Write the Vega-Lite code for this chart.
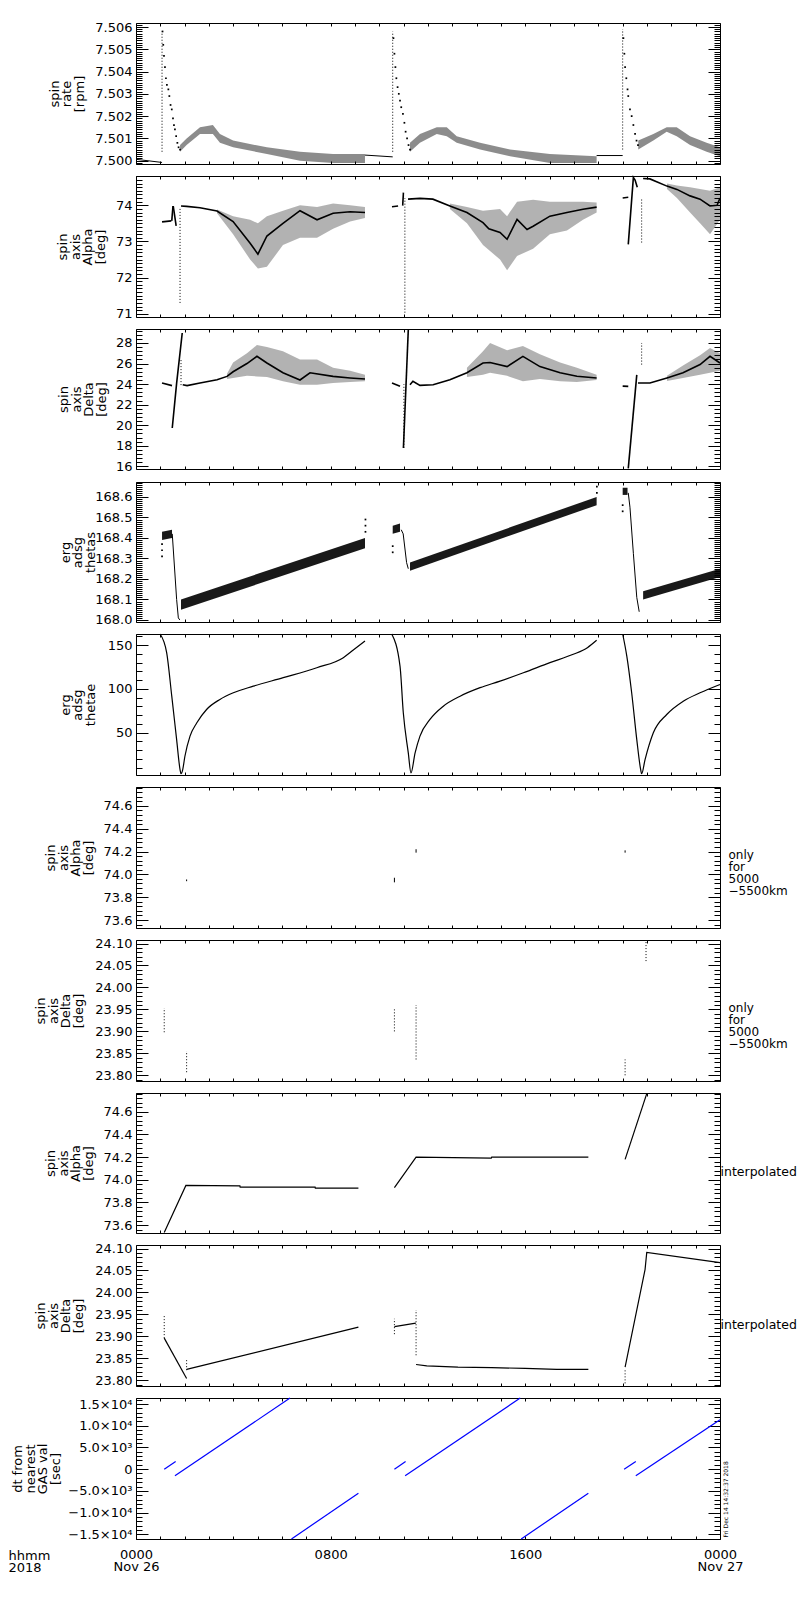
{
"$schema":"https://vega.github.io/schema/vega-lite/v6.json",
"autosize":{"type":"none"},
"width":584,
"height":1516,
"padding":{"left":136,"top":23,"right":80,"bottom":61},
"background":"#ffffff",
"config":{
 "font":"DejaVu Sans",
 "view":{"stroke":null},
 "axis":{"domain":false,"domainColor":"#000000","domainWidth":1,"grid":false,"tickColor":"#000000","tickWidth":1,"labelFont":"DejaVu Sans","labelFontSize":13,"labelColor":"#000000","labelFlush":false,"labelOverlap":false,"labelBound":false,"titleFont":"DejaVu Sans","titleFontSize":13,"titleFontWeight":"normal","titleColor":"#000000","titleLineHeight":12.5,"labelLineHeight":12}
},
"datasets":{
"lines":[
{"p":1,"s":"a","h":0,"v":7.50006},{"p":1,"s":"a","h":1.07,"v":7.49992},
{"p":1,"s":"d","h":9.41,"v":7.50025},{"p":1,"s":"d","h":10.55,"v":7.50017},
{"p":1,"s":"f","h":18.93,"v":7.50023},{"p":1,"s":"f","h":20.0,"v":7.50023},
{"p":2,"s":"a","h":1.07,"v":73.54},{"p":2,"s":"a","h":1.45,"v":73.57},
{"p":2,"s":"b","h":1.47,"v":73.57},{"p":2,"s":"b","h":1.52,"v":73.98},
{"p":2,"s":"c","h":1.53,"v":73.98},{"p":2,"s":"c","h":1.65,"v":73.43},
{"p":2,"s":"d","h":1.85,"v":73.98},{"p":2,"s":"d","h":2.08,"v":73.97},{"p":2,"s":"d","h":2.63,"v":73.93},{"p":2,"s":"d","h":3.33,"v":73.84},{"p":2,"s":"d","h":3.99,"v":73.55},{"p":2,"s":"d","h":4.69,"v":72.95},{"p":2,"s":"d","h":5.01,"v":72.65},{"p":2,"s":"d","h":5.38,"v":73.15},{"p":2,"s":"d","h":6.04,"v":73.5},{"p":2,"s":"d","h":6.74,"v":73.85},{"p":2,"s":"d","h":7.44,"v":73.6},{"p":2,"s":"d","h":8.10,"v":73.78},{"p":2,"s":"d","h":8.80,"v":73.82},{"p":2,"s":"d","h":9.41,"v":73.8},
{"p":2,"s":"f","h":10.52,"v":73.96},{"p":2,"s":"f","h":10.77,"v":73.98},
{"p":2,"s":"g","h":10.96,"v":73.99},{"p":2,"s":"g","h":10.99,"v":74.35},
{"p":2,"s":"h","h":11.18,"v":74.17},{"p":2,"s":"h","h":11.67,"v":74.19},{"p":2,"s":"h","h":12.2,"v":74.17},{"p":2,"s":"h","h":12.9,"v":73.98},{"p":2,"s":"h","h":13.6,"v":73.8},{"p":2,"s":"h","h":14.26,"v":73.52},{"p":2,"s":"h","h":14.5,"v":73.35},{"p":2,"s":"h","h":14.96,"v":73.25},{"p":2,"s":"h","h":15.25,"v":73.06},{"p":2,"s":"h","h":15.66,"v":73.61},{"p":2,"s":"h","h":16.07,"v":73.33},{"p":2,"s":"h","h":16.32,"v":73.42},{"p":2,"s":"h","h":17.01,"v":73.7},{"p":2,"s":"h","h":17.71,"v":73.8},{"p":2,"s":"h","h":18.37,"v":73.89},{"p":2,"s":"h","h":18.93,"v":73.95},
{"p":2,"s":"j","h":20.0,"v":74.2},{"p":2,"s":"j","h":20.23,"v":74.22},
{"p":2,"s":"k","h":20.23,"v":72.92},{"p":2,"s":"k","h":20.44,"v":74.77},{"p":2,"s":"k","h":20.51,"v":74.7},{"p":2,"s":"k","h":20.6,"v":74.5},
{"p":2,"s":"l","h":20.84,"v":74.74},{"p":2,"s":"l","h":21.12,"v":74.73},{"p":2,"s":"l","h":21.82,"v":74.53},{"p":2,"s":"l","h":22.23,"v":74.44},{"p":2,"s":"l","h":22.77,"v":74.26},{"p":2,"s":"l","h":23.18,"v":74.17},{"p":2,"s":"l","h":23.59,"v":73.98},{"p":2,"s":"l","h":23.88,"v":74.0},{"p":2,"s":"l","h":24.0,"v":74.2},
{"p":3,"s":"a","h":1.07,"v":24.1},{"p":3,"s":"a","h":1.48,"v":23.85},
{"p":3,"s":"b","h":1.49,"v":19.73},{"p":3,"s":"b","h":1.67,"v":24.1},{"p":3,"s":"b","h":1.90,"v":28.97},
{"p":3,"s":"c","h":1.92,"v":23.94},{"p":3,"s":"c","h":2.10,"v":23.85},{"p":3,"s":"c","h":2.63,"v":24.11},{"p":3,"s":"c","h":3.33,"v":24.43},{"p":3,"s":"c","h":3.74,"v":24.75},{"p":3,"s":"c","h":3.99,"v":25.2},{"p":3,"s":"c","h":4.56,"v":26.0},{"p":3,"s":"c","h":4.97,"v":26.7},{"p":3,"s":"c","h":5.38,"v":26.05},{"p":3,"s":"c","h":6.04,"v":25.1},{"p":3,"s":"c","h":6.74,"v":24.4},{"p":3,"s":"c","h":7.15,"v":25.1},{"p":3,"s":"c","h":8.10,"v":24.75},{"p":3,"s":"c","h":8.80,"v":24.6},{"p":3,"s":"c","h":9.41,"v":24.5},
{"p":3,"s":"e","h":10.52,"v":24.1},{"p":3,"s":"e","h":10.85,"v":23.78},
{"p":3,"s":"f","h":10.99,"v":17.79},{"p":3,"s":"f","h":11.19,"v":29.29},
{"p":3,"s":"g","h":11.26,"v":23.94},{"p":3,"s":"g","h":11.38,"v":24.27},{"p":3,"s":"g","h":11.67,"v":23.88},{"p":3,"s":"g","h":12.21,"v":23.94},{"p":3,"s":"g","h":12.9,"v":24.43},{"p":3,"s":"g","h":13.6,"v":25.1},{"p":3,"s":"g","h":14.26,"v":26.05},{"p":3,"s":"g","h":14.55,"v":26.1},{"p":3,"s":"g","h":15.25,"v":25.7},{"p":3,"s":"g","h":15.9,"v":26.7},{"p":3,"s":"g","h":16.6,"v":25.7},{"p":3,"s":"g","h":17.43,"v":25.1},{"p":3,"s":"g","h":18.12,"v":24.76},{"p":3,"s":"g","h":18.93,"v":24.6},
{"p":3,"s":"i","h":20.0,"v":23.8},{"p":3,"s":"i","h":20.23,"v":23.78},
{"p":3,"s":"j","h":20.23,"v":15.8},{"p":3,"s":"j","h":20.58,"v":24.9},
{"p":3,"s":"k","h":20.63,"v":24.1},{"p":3,"s":"k","h":21.12,"v":24.1},{"p":3,"s":"k","h":21.82,"v":24.6},{"p":3,"s":"k","h":22.48,"v":25.1},{"p":3,"s":"k","h":23.18,"v":25.9},{"p":3,"s":"k","h":23.59,"v":26.7},{"p":3,"s":"k","h":24.0,"v":26.05},
{"p":4,"s":"b","h":1.49,"v":168.42},{"p":4,"s":"b","h":1.67,"v":168.10},{"p":4,"s":"b","h":1.74,"v":168.01},{"p":4,"s":"b","h":1.80,"v":168.0},
{"p":4,"s":"e","h":10.90,"v":168.44},{"p":4,"s":"e","h":10.98,"v":168.42},{"p":4,"s":"e","h":11.12,"v":168.28},{"p":4,"s":"e","h":11.19,"v":168.25},
{"p":4,"s":"h","h":20.23,"v":168.62},{"p":4,"s":"h","h":20.30,"v":168.55},{"p":4,"s":"h","h":20.44,"v":168.325},{"p":4,"s":"h","h":20.58,"v":168.11},{"p":4,"s":"h","h":20.68,"v":168.04},
{"p":5,"s":"a","h":0.99,"v":162.6},{"p":5,"s":"a","h":1.26,"v":141.3},{"p":5,"s":"a","h":1.47,"v":91.6},{"p":5,"s":"a","h":1.67,"v":42},{"p":5,"s":"a","h":1.81,"v":7.8},{"p":5,"s":"a","h":1.85,"v":3},{"p":5,"s":"a","h":1.92,"v":7.8},{"p":5,"s":"a","h":2.01,"v":23},{"p":5,"s":"a","h":2.22,"v":46},{"p":5,"s":"a","h":2.50,"v":61.2},{"p":5,"s":"a","h":2.90,"v":76.4},{"p":5,"s":"a","h":3.45,"v":87.9},{"p":5,"s":"a","h":4.00,"v":95.5},{"p":5,"s":"a","h":4.82,"v":103},{"p":5,"s":"a","h":6.05,"v":112.7},{"p":5,"s":"a","h":7.43,"v":124.1},{"p":5,"s":"a","h":8.52,"v":135.6},{"p":5,"s":"a","h":8.93,"v":144.3},{"p":5,"s":"a","h":9.41,"v":154.6},
{"p":5,"s":"c","h":10.51,"v":162.6},{"p":5,"s":"c","h":10.85,"v":126},{"p":5,"s":"c","h":10.985,"v":72.6},{"p":5,"s":"c","h":11.19,"v":26.9},{"p":5,"s":"c","h":11.30,"v":4},{"p":5,"s":"c","h":11.47,"v":26.9},{"p":5,"s":"c","h":11.67,"v":46},{"p":5,"s":"c","h":12.08,"v":65},{"p":5,"s":"c","h":12.63,"v":80.2},{"p":5,"s":"c","h":13.32,"v":91.6},{"p":5,"s":"c","h":14.14,"v":101.3},{"p":5,"s":"c","h":14.96,"v":108.8},{"p":5,"s":"c","h":15.92,"v":118.4},{"p":5,"s":"c","h":17.01,"v":129.9},{"p":5,"s":"c","h":17.97,"v":139.4},{"p":5,"s":"c","h":18.55,"v":147},{"p":5,"s":"c","h":18.93,"v":155.4},
{"p":5,"s":"d","h":20.0,"v":162.6},{"p":5,"s":"d","h":20.17,"v":137.4},{"p":5,"s":"d","h":20.37,"v":95.5},{"p":5,"s":"d","h":20.58,"v":42},{"p":5,"s":"d","h":20.74,"v":7.8},{"p":5,"s":"d","h":20.78,"v":3},{"p":5,"s":"d","h":20.92,"v":19.2},{"p":5,"s":"d","h":21.26,"v":49.8},{"p":5,"s":"d","h":21.81,"v":70.7},{"p":5,"s":"d","h":22.49,"v":85.9},{"p":5,"s":"d","h":23.18,"v":95.5},{"p":5,"s":"d","h":24.0,"v":105},
{"p":8,"s":"a","h":1.16,"v":73.535},{"p":8,"s":"a","h":2.05,"v":73.95},{"p":8,"s":"a","h":4.27,"v":73.945},{"p":8,"s":"a","h":4.28,"v":73.935},{"p":8,"s":"a","h":7.36,"v":73.935},{"p":8,"s":"a","h":7.37,"v":73.925},{"p":8,"s":"a","h":9.14,"v":73.925},
{"p":8,"s":"d","h":10.62,"v":73.93},{"p":8,"s":"d","h":11.51,"v":74.2},{"p":8,"s":"d","h":14.6,"v":74.19},{"p":8,"s":"d","h":14.62,"v":74.2},{"p":8,"s":"d","h":18.59,"v":74.2},
{"p":8,"s":"e","h":20.10,"v":74.18},{"p":8,"s":"e","h":20.99,"v":74.76},
{"p":9,"s":"a","h":1.16,"v":23.896},{"p":9,"s":"a","h":2.08,"v":23.804},
{"p":9,"s":"b","h":2.08,"v":23.825},{"p":9,"s":"b","h":9.14,"v":23.921},
{"p":9,"s":"c","h":10.62,"v":23.922},{"p":9,"s":"c","h":11.50,"v":23.93},
{"p":9,"s":"d","h":11.51,"v":23.836},{"p":9,"s":"d","h":11.95,"v":23.833},{"p":9,"s":"d","h":13.23,"v":23.830},{"p":9,"s":"d","h":14.62,"v":23.829},{"p":9,"s":"d","h":15.99,"v":23.827},{"p":9,"s":"d","h":17.29,"v":23.825},{"p":9,"s":"d","h":18.59,"v":23.825},
{"p":9,"s":"e","h":20.10,"v":23.83},{"p":9,"s":"e","h":20.92,"v":24.052},{"p":9,"s":"e","h":20.99,"v":24.091},{"p":9,"s":"e","h":24.0,"v":24.068},
{"p":10,"s":"a","h":1.16,"v":0},{"p":10,"s":"a","h":1.63,"v":1760},
{"p":10,"s":"b","h":1.60,"v":-1540},{"p":10,"s":"b","h":6.33,"v":16385},
{"p":10,"s":"c","h":6.39,"v":-16085},{"p":10,"s":"c","h":9.14,"v":-5540},
{"p":10,"s":"d","h":10.62,"v":0},{"p":10,"s":"d","h":11.08,"v":1760},
{"p":10,"s":"e","h":11.06,"v":-1540},{"p":10,"s":"e","h":15.79,"v":16385},
{"p":10,"s":"f","h":15.83,"v":-16085},{"p":10,"s":"f","h":18.59,"v":-5540},
{"p":10,"s":"g","h":20.06,"v":0},{"p":10,"s":"g","h":20.54,"v":1760},
{"p":10,"s":"h","h":20.54,"v":-1540},{"p":10,"s":"h","h":24.0,"v":11380}
],
"bands":[
{"p":1,"s":"c","h":1.81,"lo":7.5004,"hi":7.5007},{"p":1,"s":"c","h":2.08,"lo":7.5007,"hi":7.501},{"p":1,"s":"c","h":2.63,"lo":7.5012,"hi":7.5015},{"p":1,"s":"c","h":3.16,"lo":7.5012,"hi":7.5016},{"p":1,"s":"c","h":3.45,"lo":7.5008,"hi":7.5012},{"p":1,"s":"c","h":3.99,"lo":7.5006,"hi":7.5009},{"p":1,"s":"c","h":5.38,"lo":7.5003,"hi":7.5006},{"p":1,"s":"c","h":6.74,"lo":7.5,"hi":7.5004},{"p":1,"s":"c","h":8.10,"lo":7.4999,"hi":7.5003},{"p":1,"s":"c","h":9.41,"lo":7.4999,"hi":7.5003},
{"p":1,"s":"e","h":11.26,"lo":7.5004,"hi":7.5008},{"p":1,"s":"e","h":11.67,"lo":7.5008,"hi":7.5012},{"p":1,"s":"e","h":12.36,"lo":7.5012,"hi":7.5015},{"p":1,"s":"e","h":12.77,"lo":7.5011,"hi":7.5015},{"p":1,"s":"e","h":13.18,"lo":7.5008,"hi":7.5011},{"p":1,"s":"e","h":14.14,"lo":7.5005,"hi":7.5008},{"p":1,"s":"e","h":15.37,"lo":7.5002,"hi":7.5005},{"p":1,"s":"e","h":17.01,"lo":7.4999,"hi":7.5003},{"p":1,"s":"e","h":18.93,"lo":7.4999,"hi":7.5002},
{"p":1,"s":"g","h":20.64,"lo":7.5005,"hi":7.5009},{"p":1,"s":"g","h":21.26,"lo":7.5009,"hi":7.5012},{"p":1,"s":"g","h":21.81,"lo":7.5013,"hi":7.5015},{"p":1,"s":"g","h":22.22,"lo":7.5011,"hi":7.5015},{"p":1,"s":"g","h":22.77,"lo":7.5007,"hi":7.5011},{"p":1,"s":"g","h":23.45,"lo":7.5004,"hi":7.5008},{"p":1,"s":"g","h":24.0,"lo":7.5002,"hi":7.5006},
{"p":2,"s":"e","h":3.33,"lo":73.78,"hi":73.88},{"p":2,"s":"e","h":3.99,"lo":73.2,"hi":73.7},{"p":2,"s":"e","h":4.69,"lo":72.5,"hi":73.6},{"p":2,"s":"e","h":5.01,"lo":72.25,"hi":73.5},{"p":2,"s":"e","h":5.38,"lo":72.3,"hi":73.7},{"p":2,"s":"e","h":6.04,"lo":72.9,"hi":73.85},{"p":2,"s":"e","h":6.74,"lo":73.1,"hi":74.0},{"p":2,"s":"e","h":7.44,"lo":73.1,"hi":73.95},{"p":2,"s":"e","h":8.10,"lo":73.35,"hi":74.05},{"p":2,"s":"e","h":8.80,"lo":73.55,"hi":74.0},{"p":2,"s":"e","h":9.41,"lo":73.65,"hi":73.95},
{"p":2,"s":"i","h":12.9,"lo":73.9,"hi":74.05},{"p":2,"s":"i","h":13.6,"lo":73.5,"hi":73.95},{"p":2,"s":"i","h":14.26,"lo":72.9,"hi":73.85},{"p":2,"s":"i","h":14.96,"lo":72.5,"hi":73.9},{"p":2,"s":"i","h":15.25,"lo":72.2,"hi":73.7},{"p":2,"s":"i","h":15.66,"lo":72.6,"hi":74.1},{"p":2,"s":"i","h":16.32,"lo":72.8,"hi":74.15},{"p":2,"s":"i","h":17.01,"lo":73.2,"hi":74.1},{"p":2,"s":"i","h":17.71,"lo":73.3,"hi":74.1},{"p":2,"s":"i","h":18.37,"lo":73.6,"hi":74.1},{"p":2,"s":"i","h":18.93,"lo":73.8,"hi":74.08},
{"p":2,"s":"m","h":21.82,"lo":74.45,"hi":74.6},{"p":2,"s":"m","h":22.23,"lo":74.2,"hi":74.55},{"p":2,"s":"m","h":22.77,"lo":73.8,"hi":74.5},{"p":2,"s":"m","h":23.18,"lo":73.5,"hi":74.45},{"p":2,"s":"m","h":23.59,"lo":73.2,"hi":74.4},{"p":2,"s":"m","h":24.0,"lo":73.6,"hi":74.5},
{"p":3,"s":"d","h":3.74,"lo":24.5,"hi":25.0},{"p":3,"s":"d","h":3.99,"lo":24.6,"hi":26.1},{"p":3,"s":"d","h":4.56,"lo":24.8,"hi":27.0},{"p":3,"s":"d","h":4.97,"lo":24.75,"hi":27.8},{"p":3,"s":"d","h":5.38,"lo":24.7,"hi":27.6},{"p":3,"s":"d","h":6.04,"lo":24.27,"hi":27.2},{"p":3,"s":"d","h":6.74,"lo":23.94,"hi":26.4},{"p":3,"s":"d","h":7.44,"lo":23.94,"hi":26.4},{"p":3,"s":"d","h":8.10,"lo":24.1,"hi":25.6},{"p":3,"s":"d","h":8.80,"lo":24.2,"hi":25.3},{"p":3,"s":"d","h":9.41,"lo":24.27,"hi":24.9},
{"p":3,"s":"h","h":13.6,"lo":24.7,"hi":25.6},{"p":3,"s":"h","h":14.26,"lo":24.9,"hi":27.2},{"p":3,"s":"h","h":14.55,"lo":25.1,"hi":28.0},{"p":3,"s":"h","h":15.25,"lo":24.8,"hi":27.3},{"p":3,"s":"h","h":15.9,"lo":24.27,"hi":27.7},{"p":3,"s":"h","h":16.6,"lo":24.5,"hi":26.9},{"p":3,"s":"h","h":17.43,"lo":24.27,"hi":26.1},{"p":3,"s":"h","h":18.12,"lo":24.2,"hi":25.6},{"p":3,"s":"h","h":18.93,"lo":24.4,"hi":24.9},
{"p":3,"s":"l","h":21.82,"lo":24.3,"hi":24.8},{"p":3,"s":"l","h":22.48,"lo":24.6,"hi":25.8},{"p":3,"s":"l","h":23.18,"lo":24.9,"hi":26.8},{"p":3,"s":"l","h":23.59,"lo":25.1,"hi":27.5},{"p":3,"s":"l","h":24.0,"lo":25.3,"hi":27.0},
{"p":4,"s":"a","h":1.07,"lo":168.39,"hi":168.43},{"p":4,"s":"a","h":1.48,"lo":168.40,"hi":168.44},
{"p":4,"s":"c","h":1.85,"lo":168.05,"hi":168.10},{"p":4,"s":"c","h":9.41,"lo":168.35,"hi":168.40},
{"p":4,"s":"d","h":10.55,"lo":168.42,"hi":168.46},{"p":4,"s":"d","h":10.85,"lo":168.43,"hi":168.47},
{"p":4,"s":"f","h":11.26,"lo":168.24,"hi":168.28},{"p":4,"s":"f","h":18.93,"lo":168.56,"hi":168.60},
{"p":4,"s":"g","h":20.0,"lo":168.61,"hi":168.645},{"p":4,"s":"g","h":20.2,"lo":168.61,"hi":168.645},
{"p":4,"s":"i","h":20.84,"lo":168.10,"hi":168.14},{"p":4,"s":"i","h":24.0,"lo":168.21,"hi":168.25}
],
"cols":[
{"p":1,"h":1.07,"v":7.5004,"v2":7.5058},{"p":1,"h":10.55,"v":7.5004,"v2":7.5058},{"p":1,"h":20.0,"v":7.5005,"v2":7.5059},
{"p":2,"h":1.81,"v":71.3,"v2":73.9},{"p":2,"h":11.05,"v":71.03,"v2":74.2},{"p":2,"h":20.78,"v":72.97,"v2":74.17},
{"p":3,"h":1.85,"v":23.9,"v2":26.4},{"p":3,"h":11.01,"v":17.8,"v2":24.0},{"p":3,"h":20.78,"v":25.9,"v2":28.0},
{"p":6,"h":2.08,"v":73.94,"v2":73.955},{"p":6,"h":10.62,"v":73.93,"v2":73.97},{"p":6,"h":11.51,"v":74.19,"v2":74.22},{"p":6,"h":20.10,"v":74.19,"v2":74.21},
{"p":7,"h":1.16,"v":23.898,"v2":23.953},{"p":7,"h":2.08,"v":23.807,"v2":23.855},{"p":7,"h":10.62,"v":23.90,"v2":23.95},{"p":7,"h":11.51,"v":23.836,"v2":23.96},{"p":7,"h":20.10,"v":23.80,"v2":23.836},{"p":7,"h":20.96,"v":24.06,"v2":24.105},
{"p":9,"h":1.16,"v":23.896,"v2":23.949},{"p":9,"h":2.08,"v":23.823,"v2":23.85},{"p":9,"h":10.62,"v":23.905,"v2":23.94},{"p":9,"h":11.51,"v":23.857,"v2":23.96},{"p":9,"h":20.10,"v":23.793,"v2":23.823}
],
"dots":[
{"p":1,"h":1.09,"v":7.5058},{"p":1,"h":1.12,"v":7.5052},{"p":1,"h":1.15,"v":7.5047},{"p":1,"h":1.19,"v":7.5042},{"p":1,"h":1.23,"v":7.5037},{"p":1,"h":1.27,"v":7.5034},{"p":1,"h":1.33,"v":7.5032},{"p":1,"h":1.37,"v":7.5029},{"p":1,"h":1.42,"v":7.5025},{"p":1,"h":1.47,"v":7.5023},{"p":1,"h":1.52,"v":7.5019},{"p":1,"h":1.56,"v":7.5016},{"p":1,"h":1.60,"v":7.5014},{"p":1,"h":1.65,"v":7.5011},{"p":1,"h":1.70,"v":7.5008},{"p":1,"h":1.75,"v":7.5006},{"p":1,"h":1.81,"v":7.5005},
{"p":1,"h":10.58,"v":7.5055},{"p":1,"h":10.62,"v":7.5048},{"p":1,"h":10.66,"v":7.5042},{"p":1,"h":10.70,"v":7.5037},{"p":1,"h":10.75,"v":7.5033},{"p":1,"h":10.80,"v":7.503},{"p":1,"h":10.85,"v":7.5027},{"p":1,"h":10.90,"v":7.5024},{"p":1,"h":10.97,"v":7.5021},{"p":1,"h":11.03,"v":7.5017},{"p":1,"h":11.08,"v":7.5013},{"p":1,"h":11.14,"v":7.501},{"p":1,"h":11.20,"v":7.5007},{"p":1,"h":11.26,"v":7.5005},
{"p":1,"h":20.03,"v":7.5055},{"p":1,"h":20.07,"v":7.5048},{"p":1,"h":20.10,"v":7.5042},{"p":1,"h":20.15,"v":7.5037},{"p":1,"h":20.2,"v":7.5032},{"p":1,"h":20.23,"v":7.5029},{"p":1,"h":20.3,"v":7.5023},{"p":1,"h":20.37,"v":7.502},{"p":1,"h":20.44,"v":7.5016},{"p":1,"h":20.51,"v":7.5012},{"p":1,"h":20.57,"v":7.5009},{"p":1,"h":20.63,"v":7.5007},
{"p":4,"h":1.07,"v":168.31},{"p":4,"h":1.07,"v":168.34},{"p":4,"h":1.07,"v":168.37},{"p":4,"h":9.43,"v":168.43},{"p":4,"h":9.43,"v":168.46},{"p":4,"h":9.43,"v":168.49},{"p":4,"h":10.55,"v":168.33},{"p":4,"h":10.55,"v":168.36},{"p":4,"h":18.94,"v":168.62},{"p":4,"h":18.94,"v":168.65},{"p":4,"h":20.0,"v":168.53},{"p":4,"h":20.0,"v":168.56}
]
},
"resolve":{"scale":{"y":"independent"},"axis":{"x":"independent","y":"independent"}},
"layer":[
 {"data":{"name":"bands"},"transform":[{"filter":"datum.p==1"}],"mark":{"type":"area","color":"#000","opacity":0.45},"encoding":{"x":{"field":"h","type":"quantitative","scale":{"domain":[0,24],"nice":false,"zero":false},"axis":null},"y":{"field":"lo","type":"quantitative","scale":{"domain":[7.49985,7.50618],"range":[141,0],"nice":false,"zero":false,"clamp":true},"axis":null},"y2":{"field":"hi"},"detail":{"field":"s"}}},
 {"data":{"name":"lines"},"transform":[{"filter":"datum.p==1"}],"mark":{"type":"line","color":"#000","strokeWidth":1},"encoding":{"x":{"field":"h","type":"quantitative","scale":{"domain":[0,24],"nice":false,"zero":false},"axis":null},"y":{"field":"v","type":"quantitative","scale":{"domain":[7.49985,7.50618],"range":[141,0],"nice":false,"zero":false,"clamp":true},"axis":null},"detail":{"field":"s"}}},
 {"data":{"name":"cols"},"transform":[{"filter":"datum.p==1"}],"mark":{"type":"rule","color":"#000","strokeDash":[1,2]},"encoding":{"x":{"field":"h","type":"quantitative","scale":{"domain":[0,24],"nice":false,"zero":false},"axis":null},"y":{"field":"v","type":"quantitative","scale":{"domain":[7.49985,7.50618],"range":[141,0],"nice":false,"zero":false,"clamp":true},"axis":null},"y2":{"field":"v2"}}},
 {"data":{"name":"dots"},"transform":[{"filter":"datum.p==1"}],"mark":{"type":"square","color":"#000","size":3,"opacity":1},"encoding":{"x":{"field":"h","type":"quantitative","scale":{"domain":[0,24],"nice":false,"zero":false},"axis":null},"y":{"field":"v","type":"quantitative","scale":{"domain":[7.49985,7.50618],"range":[141,0],"nice":false,"zero":false,"clamp":true},"axis":null}}},
 {"data":{"name":"lines"},"transform":[{"filter":"datum.p==1"}],"mark":{"type":"point","opacity":0},"encoding":{"x":{"field":"h","type":"quantitative","scale":{"domain":[0,24],"nice":false,"zero":false},"axis":{"orient":"bottom","offset":-1375,"domain":true,"values":[0,1,2,3,4,5,6,7,8,9,10,11,12,13,14,15,16,17,18,19,20,21,22,23,24],"tickSize":-3,"labels":false,"title":null}},"y":{"field":"v","type":"quantitative","scale":{"domain":[7.49985,7.50618],"range":[141,0],"nice":false,"zero":false,"clamp":true},"axis":{"orient":"left","domain":true,"values":[7.5,7.501,7.502,7.503,7.504,7.505,7.506],"format":".3f","tickSize":-12,"labelPadding":16,"title":["spin","rate","[rpm]"],"titleX":-75,"titleY":70.5,"titleAngle":270,"titleBaseline":"bottom","titleAlign":"center"}}}},
 {"data":{"name":"lines"},"transform":[{"filter":"datum.p==1"}],"mark":{"type":"point","opacity":0},"encoding":{"x":{"field":"h","type":"quantitative","scale":{"domain":[0,24],"nice":false,"zero":false},"axis":{"orient":"top","offset":0,"domain":true,"values":[0,1,2,3,4,5,6,7,8,9,10,11,12,13,14,15,16,17,18,19,20,21,22,23,24],"tickSize":-3,"labels":false,"title":null}},"y":{"field":"v","type":"quantitative","scale":{"domain":[7.49985,7.50618],"range":[141,0],"nice":false,"zero":false,"clamp":true},"axis":{"orient":"right","domain":true,"values":[7.5,7.501,7.502,7.503,7.504,7.505,7.506],"tickSize":-12,"labels":false,"title":null}}}},
 {"data":{"name":"lines"},"transform":[{"filter":"datum.p==1"}],"mark":{"type":"point","opacity":0},"encoding":{"x":{"field":"h","type":"quantitative","scale":{"domain":[0,24],"nice":false,"zero":false},"axis":null},"y":{"field":"v","type":"quantitative","scale":{"domain":[7.49985,7.50618],"range":[141,0],"nice":false,"zero":false,"clamp":true},"axis":{"orient":"left","values":[7.4999,7.5,7.5001,7.5002,7.5003,7.5004,7.5005,7.5006,7.5007,7.5008,7.5009,7.501,7.5011,7.5012,7.5013,7.5014,7.5015,7.5016,7.5017,7.5018,7.5019,7.502,7.5021,7.5022,7.5023,7.5024,7.5025,7.5026,7.5027,7.5028,7.5029,7.503,7.5031,7.5032,7.5033,7.5034,7.5035,7.5036,7.5037,7.5038,7.5039,7.504,7.5041,7.5042,7.5043,7.5044,7.5045,7.5046,7.5047,7.5048,7.5049,7.505,7.5051,7.5052,7.5053,7.5054,7.5055,7.5056,7.5057,7.5058,7.5059,7.506,7.5061],"tickSize":-6,"labels":false,"title":null}}}},
 {"data":{"name":"lines"},"transform":[{"filter":"datum.p==1"}],"mark":{"type":"point","opacity":0},"encoding":{"x":{"field":"h","type":"quantitative","scale":{"domain":[0,24],"nice":false,"zero":false},"axis":null},"y":{"field":"v","type":"quantitative","scale":{"domain":[7.49985,7.50618],"range":[141,0],"nice":false,"zero":false,"clamp":true},"axis":{"orient":"right","values":[7.4999,7.5,7.5001,7.5002,7.5003,7.5004,7.5005,7.5006,7.5007,7.5008,7.5009,7.501,7.5011,7.5012,7.5013,7.5014,7.5015,7.5016,7.5017,7.5018,7.5019,7.502,7.5021,7.5022,7.5023,7.5024,7.5025,7.5026,7.5027,7.5028,7.5029,7.503,7.5031,7.5032,7.5033,7.5034,7.5035,7.5036,7.5037,7.5038,7.5039,7.504,7.5041,7.5042,7.5043,7.5044,7.5045,7.5046,7.5047,7.5048,7.5049,7.505,7.5051,7.5052,7.5053,7.5054,7.5055,7.5056,7.5057,7.5058,7.5059,7.506,7.5061],"tickSize":-6,"labels":false,"title":null}}}},

 {"data":{"name":"bands"},"transform":[{"filter":"datum.p==2"}],"mark":{"type":"area","color":"#000","opacity":0.3},"encoding":{"x":{"field":"h","type":"quantitative","scale":{"domain":[0,24],"nice":false,"zero":false},"axis":null},"y":{"field":"lo","type":"quantitative","scale":{"domain":[70.91,74.81],"range":[294,153],"nice":false,"zero":false,"clamp":true},"axis":null},"y2":{"field":"hi"},"detail":{"field":"s"}}},
 {"data":{"name":"lines"},"transform":[{"filter":"datum.p==2"}],"mark":{"type":"line","color":"#000","strokeWidth":1.6},"encoding":{"x":{"field":"h","type":"quantitative","scale":{"domain":[0,24],"nice":false,"zero":false},"axis":null},"y":{"field":"v","type":"quantitative","scale":{"domain":[70.91,74.81],"range":[294,153],"nice":false,"zero":false,"clamp":true},"axis":null},"detail":{"field":"s"}}},
 {"data":{"name":"cols"},"transform":[{"filter":"datum.p==2"}],"mark":{"type":"rule","color":"#000","strokeDash":[1,2]},"encoding":{"x":{"field":"h","type":"quantitative","scale":{"domain":[0,24],"nice":false,"zero":false},"axis":null},"y":{"field":"v","type":"quantitative","scale":{"domain":[70.91,74.81],"range":[294,153],"nice":false,"zero":false,"clamp":true},"axis":null},"y2":{"field":"v2"}}},
 {"data":{"name":"lines"},"transform":[{"filter":"datum.p==2"}],"mark":{"type":"point","opacity":0},"encoding":{"x":{"field":"h","type":"quantitative","scale":{"domain":[0,24],"nice":false,"zero":false},"axis":{"orient":"bottom","offset":-1222,"domain":true,"values":[0,1,2,3,4,5,6,7,8,9,10,11,12,13,14,15,16,17,18,19,20,21,22,23,24],"tickSize":-3,"labels":false,"title":null}},"y":{"field":"v","type":"quantitative","scale":{"domain":[70.91,74.81],"range":[294,153],"nice":false,"zero":false,"clamp":true},"axis":{"orient":"left","domain":true,"values":[71,72,73,74],"format":"d","tickSize":-12,"labelPadding":16,"title":["spin","axis","Alpha","[deg]"],"titleX":-66.5,"titleY":223.5,"titleAngle":270,"titleBaseline":"bottom","titleAlign":"center"}}}},
 {"data":{"name":"lines"},"transform":[{"filter":"datum.p==2"}],"mark":{"type":"point","opacity":0},"encoding":{"x":{"field":"h","type":"quantitative","scale":{"domain":[0,24],"nice":false,"zero":false},"axis":{"orient":"top","offset":-153,"domain":true,"values":[0,1,2,3,4,5,6,7,8,9,10,11,12,13,14,15,16,17,18,19,20,21,22,23,24],"tickSize":-3,"labels":false,"title":null}},"y":{"field":"v","type":"quantitative","scale":{"domain":[70.91,74.81],"range":[294,153],"nice":false,"zero":false,"clamp":true},"axis":{"orient":"right","domain":true,"values":[71,72,73,74],"tickSize":-12,"labels":false,"title":null}}}},
 {"data":{"name":"lines"},"transform":[{"filter":"datum.p==2"}],"mark":{"type":"point","opacity":0},"encoding":{"x":{"field":"h","type":"quantitative","scale":{"domain":[0,24],"nice":false,"zero":false},"axis":null},"y":{"field":"v","type":"quantitative","scale":{"domain":[70.91,74.81],"range":[294,153],"nice":false,"zero":false,"clamp":true},"axis":{"orient":"left","values":[71,71.1,71.2,71.3,71.4,71.5,71.6,71.7,71.8,71.9,72,72.1,72.2,72.3,72.4,72.5,72.6,72.7,72.8,72.9,73,73.1,73.2,73.3,73.4,73.5,73.6,73.7,73.8,73.9,74,74.1,74.2,74.3,74.4,74.5,74.6,74.7,74.8],"tickSize":-6,"labels":false,"title":null}}}},
 {"data":{"name":"lines"},"transform":[{"filter":"datum.p==2"}],"mark":{"type":"point","opacity":0},"encoding":{"x":{"field":"h","type":"quantitative","scale":{"domain":[0,24],"nice":false,"zero":false},"axis":null},"y":{"field":"v","type":"quantitative","scale":{"domain":[70.91,74.81],"range":[294,153],"nice":false,"zero":false,"clamp":true},"axis":{"orient":"right","values":[71,71.1,71.2,71.3,71.4,71.5,71.6,71.7,71.8,71.9,72,72.1,72.2,72.3,72.4,72.5,72.6,72.7,72.8,72.9,73,73.1,73.2,73.3,73.4,73.5,73.6,73.7,73.8,73.9,74,74.1,74.2,74.3,74.4,74.5,74.6,74.7,74.8],"tickSize":-6,"labels":false,"title":null}}}},

 {"data":{"name":"bands"},"transform":[{"filter":"datum.p==3"}],"mark":{"type":"area","color":"#000","opacity":0.3},"encoding":{"x":{"field":"h","type":"quantitative","scale":{"domain":[0,24],"nice":false,"zero":false},"axis":null},"y":{"field":"lo","type":"quantitative","scale":{"domain":[15.74,29.36],"range":[446,306],"nice":false,"zero":false,"clamp":true},"axis":null},"y2":{"field":"hi"},"detail":{"field":"s"}}},
 {"data":{"name":"lines"},"transform":[{"filter":"datum.p==3"}],"mark":{"type":"line","color":"#000","strokeWidth":1.6},"encoding":{"x":{"field":"h","type":"quantitative","scale":{"domain":[0,24],"nice":false,"zero":false},"axis":null},"y":{"field":"v","type":"quantitative","scale":{"domain":[15.74,29.36],"range":[446,306],"nice":false,"zero":false,"clamp":true},"axis":null},"detail":{"field":"s"}}},
 {"data":{"name":"cols"},"transform":[{"filter":"datum.p==3"}],"mark":{"type":"rule","color":"#000","strokeDash":[1,2]},"encoding":{"x":{"field":"h","type":"quantitative","scale":{"domain":[0,24],"nice":false,"zero":false},"axis":null},"y":{"field":"v","type":"quantitative","scale":{"domain":[15.74,29.36],"range":[446,306],"nice":false,"zero":false,"clamp":true},"axis":null},"y2":{"field":"v2"}}},
 {"data":{"name":"lines"},"transform":[{"filter":"datum.p==3"}],"mark":{"type":"point","opacity":0},"encoding":{"x":{"field":"h","type":"quantitative","scale":{"domain":[0,24],"nice":false,"zero":false},"axis":{"orient":"bottom","offset":-1070,"domain":true,"values":[0,1,2,3,4,5,6,7,8,9,10,11,12,13,14,15,16,17,18,19,20,21,22,23,24],"tickSize":-3,"labels":false,"title":null}},"y":{"field":"v","type":"quantitative","scale":{"domain":[15.74,29.36],"range":[446,306],"nice":false,"zero":false,"clamp":true},"axis":{"orient":"left","domain":true,"values":[16,18,20,22,24,26,28],"format":"d","tickSize":-12,"labelPadding":16,"title":["spin","axis","Delta","[deg]"],"titleX":-65.5,"titleY":376,"titleAngle":270,"titleBaseline":"bottom","titleAlign":"center"}}}},
 {"data":{"name":"lines"},"transform":[{"filter":"datum.p==3"}],"mark":{"type":"point","opacity":0},"encoding":{"x":{"field":"h","type":"quantitative","scale":{"domain":[0,24],"nice":false,"zero":false},"axis":{"orient":"top","offset":-306,"domain":true,"values":[0,1,2,3,4,5,6,7,8,9,10,11,12,13,14,15,16,17,18,19,20,21,22,23,24],"tickSize":-3,"labels":false,"title":null}},"y":{"field":"v","type":"quantitative","scale":{"domain":[15.74,29.36],"range":[446,306],"nice":false,"zero":false,"clamp":true},"axis":{"orient":"right","domain":true,"values":[16,18,20,22,24,26,28],"tickSize":-12,"labels":false,"title":null}}}},
 {"data":{"name":"lines"},"transform":[{"filter":"datum.p==3"}],"mark":{"type":"point","opacity":0},"encoding":{"x":{"field":"h","type":"quantitative","scale":{"domain":[0,24],"nice":false,"zero":false},"axis":null},"y":{"field":"v","type":"quantitative","scale":{"domain":[15.74,29.36],"range":[446,306],"nice":false,"zero":false,"clamp":true},"axis":{"orient":"left","values":[16,16.4,16.8,17.2,17.6,18,18.4,18.8,19.2,19.6,20,20.4,20.8,21.2,21.6,22,22.4,22.8,23.2,23.6,24,24.4,24.8,25.2,25.6,26,26.4,26.8,27.2,27.6,28,28.4,28.8,29.2],"tickSize":-6,"labels":false,"title":null}}}},
 {"data":{"name":"lines"},"transform":[{"filter":"datum.p==3"}],"mark":{"type":"point","opacity":0},"encoding":{"x":{"field":"h","type":"quantitative","scale":{"domain":[0,24],"nice":false,"zero":false},"axis":null},"y":{"field":"v","type":"quantitative","scale":{"domain":[15.74,29.36],"range":[446,306],"nice":false,"zero":false,"clamp":true},"axis":{"orient":"right","values":[16,16.4,16.8,17.2,17.6,18,18.4,18.8,19.2,19.6,20,20.4,20.8,21.2,21.6,22,22.4,22.8,23.2,23.6,24,24.4,24.8,25.2,25.6,26,26.4,26.8,27.2,27.6,28,28.4,28.8,29.2],"tickSize":-6,"labels":false,"title":null}}}},

 {"data":{"name":"bands"},"transform":[{"filter":"datum.p==4"}],"mark":{"type":"area","color":"#000","opacity":0.9},"encoding":{"x":{"field":"h","type":"quantitative","scale":{"domain":[0,24],"nice":false,"zero":false},"axis":null},"y":{"field":"lo","type":"quantitative","scale":{"domain":[167.99,168.673],"range":[599,459],"nice":false,"zero":false,"clamp":true},"axis":null},"y2":{"field":"hi"},"detail":{"field":"s"}}},
 {"data":{"name":"lines"},"transform":[{"filter":"datum.p==4"}],"mark":{"type":"line","color":"#000","strokeWidth":1},"encoding":{"x":{"field":"h","type":"quantitative","scale":{"domain":[0,24],"nice":false,"zero":false},"axis":null},"y":{"field":"v","type":"quantitative","scale":{"domain":[167.99,168.673],"range":[599,459],"nice":false,"zero":false,"clamp":true},"axis":null},"detail":{"field":"s"}}},
 {"data":{"name":"dots"},"transform":[{"filter":"datum.p==4"}],"mark":{"type":"square","color":"#000","size":3,"opacity":1},"encoding":{"x":{"field":"h","type":"quantitative","scale":{"domain":[0,24],"nice":false,"zero":false},"axis":null},"y":{"field":"v","type":"quantitative","scale":{"domain":[167.99,168.673],"range":[599,459],"nice":false,"zero":false,"clamp":true},"axis":null}}},
 {"data":{"name":"lines"},"transform":[{"filter":"datum.p==4"}],"mark":{"type":"point","opacity":0},"encoding":{"x":{"field":"h","type":"quantitative","scale":{"domain":[0,24],"nice":false,"zero":false},"axis":{"orient":"bottom","offset":-917,"domain":true,"values":[0,1,2,3,4,5,6,7,8,9,10,11,12,13,14,15,16,17,18,19,20,21,22,23,24],"tickSize":-3,"labels":false,"title":null}},"y":{"field":"v","type":"quantitative","scale":{"domain":[167.99,168.673],"range":[599,459],"nice":false,"zero":false,"clamp":true},"axis":{"orient":"left","domain":true,"values":[168,168.1,168.2,168.3,168.4,168.5,168.6],"format":".1f","tickSize":-12,"labelPadding":16,"title":["erg","adsg","thetas"],"titleX":-64,"titleY":529,"titleAngle":270,"titleBaseline":"bottom","titleAlign":"center"}}}},
 {"data":{"name":"lines"},"transform":[{"filter":"datum.p==4"}],"mark":{"type":"point","opacity":0},"encoding":{"x":{"field":"h","type":"quantitative","scale":{"domain":[0,24],"nice":false,"zero":false},"axis":{"orient":"top","offset":-459,"domain":true,"values":[0,1,2,3,4,5,6,7,8,9,10,11,12,13,14,15,16,17,18,19,20,21,22,23,24],"tickSize":-3,"labels":false,"title":null}},"y":{"field":"v","type":"quantitative","scale":{"domain":[167.99,168.673],"range":[599,459],"nice":false,"zero":false,"clamp":true},"axis":{"orient":"right","domain":true,"values":[168,168.1,168.2,168.3,168.4,168.5,168.6],"tickSize":-12,"labels":false,"title":null}}}},
 {"data":{"name":"lines"},"transform":[{"filter":"datum.p==4"}],"mark":{"type":"point","opacity":0},"encoding":{"x":{"field":"h","type":"quantitative","scale":{"domain":[0,24],"nice":false,"zero":false},"axis":null},"y":{"field":"v","type":"quantitative","scale":{"domain":[167.99,168.673],"range":[599,459],"nice":false,"zero":false,"clamp":true},"axis":{"orient":"left","values":[168,168.01,168.02,168.03,168.04,168.05,168.06,168.07,168.08,168.09,168.1,168.11,168.12,168.13,168.14,168.15,168.16,168.17,168.18,168.19,168.2,168.21,168.22,168.23,168.24,168.25,168.26,168.27,168.28,168.29,168.3,168.31,168.32,168.33,168.34,168.35,168.36,168.37,168.38,168.39,168.4,168.41,168.42,168.43,168.44,168.45,168.46,168.47,168.48,168.49,168.5,168.51,168.52,168.53,168.54,168.55,168.56,168.57,168.58,168.59,168.6,168.61,168.62,168.63,168.64,168.65,168.66,168.67],"tickSize":-6,"labels":false,"title":null}}}},
 {"data":{"name":"lines"},"transform":[{"filter":"datum.p==4"}],"mark":{"type":"point","opacity":0},"encoding":{"x":{"field":"h","type":"quantitative","scale":{"domain":[0,24],"nice":false,"zero":false},"axis":null},"y":{"field":"v","type":"quantitative","scale":{"domain":[167.99,168.673],"range":[599,459],"nice":false,"zero":false,"clamp":true},"axis":{"orient":"right","values":[168,168.01,168.02,168.03,168.04,168.05,168.06,168.07,168.08,168.09,168.1,168.11,168.12,168.13,168.14,168.15,168.16,168.17,168.18,168.19,168.2,168.21,168.22,168.23,168.24,168.25,168.26,168.27,168.28,168.29,168.3,168.31,168.32,168.33,168.34,168.35,168.36,168.37,168.38,168.39,168.4,168.41,168.42,168.43,168.44,168.45,168.46,168.47,168.48,168.49,168.5,168.51,168.52,168.53,168.54,168.55,168.56,168.57,168.58,168.59,168.6,168.61,168.62,168.63,168.64,168.65,168.66,168.67],"tickSize":-6,"labels":false,"title":null}}}},

 {"data":{"name":"lines"},"transform":[{"filter":"datum.p==5"}],"mark":{"type":"line","color":"#000","strokeWidth":1.2,"interpolate":"monotone"},"encoding":{"x":{"field":"h","type":"quantitative","scale":{"domain":[0,24],"nice":false,"zero":false},"axis":null},"y":{"field":"v","type":"quantitative","scale":{"domain":[1.6,162.6],"range":[752,611],"nice":false,"zero":false,"clamp":true},"axis":null},"detail":{"field":"s"}}},
 {"data":{"name":"lines"},"transform":[{"filter":"datum.p==5"}],"mark":{"type":"point","opacity":0},"encoding":{"x":{"field":"h","type":"quantitative","scale":{"domain":[0,24],"nice":false,"zero":false},"axis":{"orient":"bottom","offset":-764,"domain":true,"values":[0,1,2,3,4,5,6,7,8,9,10,11,12,13,14,15,16,17,18,19,20,21,22,23,24],"tickSize":-3,"labels":false,"title":null}},"y":{"field":"v","type":"quantitative","scale":{"domain":[1.6,162.6],"range":[752,611],"nice":false,"zero":false,"clamp":true},"axis":{"orient":"left","domain":true,"values":[50,100,150],"format":"d","tickSize":-12,"labelPadding":16,"title":["erg","adsg","thetae"],"titleX":-64,"titleY":681.5,"titleAngle":270,"titleBaseline":"bottom","titleAlign":"center"}}}},
 {"data":{"name":"lines"},"transform":[{"filter":"datum.p==5"}],"mark":{"type":"point","opacity":0},"encoding":{"x":{"field":"h","type":"quantitative","scale":{"domain":[0,24],"nice":false,"zero":false},"axis":{"orient":"top","offset":-611,"domain":true,"values":[0,1,2,3,4,5,6,7,8,9,10,11,12,13,14,15,16,17,18,19,20,21,22,23,24],"tickSize":-3,"labels":false,"title":null}},"y":{"field":"v","type":"quantitative","scale":{"domain":[1.6,162.6],"range":[752,611],"nice":false,"zero":false,"clamp":true},"axis":{"orient":"right","domain":true,"values":[50,100,150],"tickSize":-12,"labels":false,"title":null}}}},
 {"data":{"name":"lines"},"transform":[{"filter":"datum.p==5"}],"mark":{"type":"point","opacity":0},"encoding":{"x":{"field":"h","type":"quantitative","scale":{"domain":[0,24],"nice":false,"zero":false},"axis":null},"y":{"field":"v","type":"quantitative","scale":{"domain":[1.6,162.6],"range":[752,611],"nice":false,"zero":false,"clamp":true},"axis":{"orient":"left","values":[10,20,30,40,50,60,70,80,90,100,110,120,130,140,150,160],"tickSize":-6,"labels":false,"title":null}}}},
 {"data":{"name":"lines"},"transform":[{"filter":"datum.p==5"}],"mark":{"type":"point","opacity":0},"encoding":{"x":{"field":"h","type":"quantitative","scale":{"domain":[0,24],"nice":false,"zero":false},"axis":null},"y":{"field":"v","type":"quantitative","scale":{"domain":[1.6,162.6],"range":[752,611],"nice":false,"zero":false,"clamp":true},"axis":{"orient":"right","values":[10,20,30,40,50,60,70,80,90,100,110,120,130,140,150,160],"tickSize":-6,"labels":false,"title":null}}}},

 {"data":{"name":"cols"},"transform":[{"filter":"datum.p==6"}],"mark":{"type":"rule","color":"#000","strokeWidth":1},"encoding":{"x":{"field":"h","type":"quantitative","scale":{"domain":[0,24],"nice":false,"zero":false},"axis":null},"y":{"field":"v","type":"quantitative","scale":{"domain":[73.53,74.765],"range":[905,764],"nice":false,"zero":false,"clamp":true},"axis":null},"y2":{"field":"v2"}}},
 {"data":{"name":"cols"},"transform":[{"filter":"datum.p==6"}],"mark":{"type":"point","opacity":0},"encoding":{"x":{"field":"h","type":"quantitative","scale":{"domain":[0,24],"nice":false,"zero":false},"axis":{"orient":"bottom","offset":-611,"domain":true,"values":[0,1,2,3,4,5,6,7,8,9,10,11,12,13,14,15,16,17,18,19,20,21,22,23,24],"tickSize":-3,"labels":false,"title":null}},"y":{"field":"v","type":"quantitative","scale":{"domain":[73.53,74.765],"range":[905,764],"nice":false,"zero":false,"clamp":true},"axis":{"orient":"left","domain":true,"values":[73.6,73.8,74.0,74.2,74.4,74.6],"format":".1f","tickSize":-12,"labelPadding":16,"title":["spin","axis","Alpha","[deg]"],"titleX":-78.5,"titleY":834.5,"titleAngle":270,"titleBaseline":"bottom","titleAlign":"center"}}}},
 {"data":{"name":"cols"},"transform":[{"filter":"datum.p==6"}],"mark":{"type":"point","opacity":0},"encoding":{"x":{"field":"h","type":"quantitative","scale":{"domain":[0,24],"nice":false,"zero":false},"axis":{"orient":"top","offset":-764,"domain":true,"values":[0,1,2,3,4,5,6,7,8,9,10,11,12,13,14,15,16,17,18,19,20,21,22,23,24],"tickSize":-3,"labels":false,"title":null}},"y":{"field":"v","type":"quantitative","scale":{"domain":[73.53,74.765],"range":[905,764],"nice":false,"zero":false,"clamp":true},"axis":{"orient":"right","domain":true,"values":[73.6,73.8,74.0,74.2,74.4,74.6],"tickSize":-12,"labels":false,"title":["\u00a0only","for","5000","\u22125500km"],"titleAngle":0,"titleAlign":"left","titleBaseline":"top","titleX":8,"titleY":826,"titleFontSize":12,"titleLineHeight":12}}}},
 {"data":{"name":"cols"},"transform":[{"filter":"datum.p==6"}],"mark":{"type":"point","opacity":0},"encoding":{"x":{"field":"h","type":"quantitative","scale":{"domain":[0,24],"nice":false,"zero":false},"axis":null},"y":{"field":"v","type":"quantitative","scale":{"domain":[73.53,74.765],"range":[905,764],"nice":false,"zero":false,"clamp":true},"axis":{"orient":"left","values":[73.56,73.6,73.64,73.68,73.72,73.76,73.8,73.84,73.88,73.92,73.96,74,74.04,74.08,74.12,74.16,74.2,74.24,74.28,74.32,74.36,74.4,74.44,74.48,74.52,74.56,74.6,74.64,74.68,74.72,74.76],"tickSize":-6,"labels":false,"title":null}}}},
 {"data":{"name":"cols"},"transform":[{"filter":"datum.p==6"}],"mark":{"type":"point","opacity":0},"encoding":{"x":{"field":"h","type":"quantitative","scale":{"domain":[0,24],"nice":false,"zero":false},"axis":null},"y":{"field":"v","type":"quantitative","scale":{"domain":[73.53,74.765],"range":[905,764],"nice":false,"zero":false,"clamp":true},"axis":{"orient":"right","values":[73.56,73.6,73.64,73.68,73.72,73.76,73.8,73.84,73.88,73.92,73.96,74,74.04,74.08,74.12,74.16,74.2,74.24,74.28,74.32,74.36,74.4,74.44,74.48,74.52,74.56,74.6,74.64,74.68,74.72,74.76],"tickSize":-6,"labels":false,"title":null}}}},

 {"data":{"name":"cols"},"transform":[{"filter":"datum.p==7"}],"mark":{"type":"rule","color":"#000","strokeDash":[1,2]},"encoding":{"x":{"field":"h","type":"quantitative","scale":{"domain":[0,24],"nice":false,"zero":false},"axis":null},"y":{"field":"v","type":"quantitative","scale":{"domain":[23.787,24.108],"range":[1058,917],"nice":false,"zero":false,"clamp":true},"axis":null},"y2":{"field":"v2"}}},
 {"data":{"name":"cols"},"transform":[{"filter":"datum.p==7"}],"mark":{"type":"point","opacity":0},"encoding":{"x":{"field":"h","type":"quantitative","scale":{"domain":[0,24],"nice":false,"zero":false},"axis":{"orient":"bottom","offset":-458,"domain":true,"values":[0,1,2,3,4,5,6,7,8,9,10,11,12,13,14,15,16,17,18,19,20,21,22,23,24],"tickSize":-3,"labels":false,"title":null}},"y":{"field":"v","type":"quantitative","scale":{"domain":[23.787,24.108],"range":[1058,917],"nice":false,"zero":false,"clamp":true},"axis":{"orient":"left","domain":true,"values":[23.8,23.85,23.9,23.95,24.0,24.05,24.1],"format":".2f","tickSize":-12,"labelPadding":16,"title":["spin","axis","Delta","[deg]"],"titleX":-88.5,"titleY":987.5,"titleAngle":270,"titleBaseline":"bottom","titleAlign":"center"}}}},
 {"data":{"name":"cols"},"transform":[{"filter":"datum.p==7"}],"mark":{"type":"point","opacity":0},"encoding":{"x":{"field":"h","type":"quantitative","scale":{"domain":[0,24],"nice":false,"zero":false},"axis":{"orient":"top","offset":-917,"domain":true,"values":[0,1,2,3,4,5,6,7,8,9,10,11,12,13,14,15,16,17,18,19,20,21,22,23,24],"tickSize":-3,"labels":false,"title":null}},"y":{"field":"v","type":"quantitative","scale":{"domain":[23.787,24.108],"range":[1058,917],"nice":false,"zero":false,"clamp":true},"axis":{"orient":"right","domain":true,"values":[23.8,23.85,23.9,23.95,24.0,24.05,24.1],"tickSize":-12,"labels":false,"title":["\u00a0only","for","5000","\u22125500km"],"titleAngle":0,"titleAlign":"left","titleBaseline":"top","titleX":8,"titleY":979,"titleFontSize":12,"titleLineHeight":12}}}},
 {"data":{"name":"cols"},"transform":[{"filter":"datum.p==7"}],"mark":{"type":"point","opacity":0},"encoding":{"x":{"field":"h","type":"quantitative","scale":{"domain":[0,24],"nice":false,"zero":false},"axis":null},"y":{"field":"v","type":"quantitative","scale":{"domain":[23.787,24.108],"range":[1058,917],"nice":false,"zero":false,"clamp":true},"axis":{"orient":"left","values":[23.79,23.8,23.81,23.82,23.83,23.84,23.85,23.86,23.87,23.88,23.89,23.9,23.91,23.92,23.93,23.94,23.95,23.96,23.97,23.98,23.99,24,24.01,24.02,24.03,24.04,24.05,24.06,24.07,24.08,24.09,24.1],"tickSize":-6,"labels":false,"title":null}}}},
 {"data":{"name":"cols"},"transform":[{"filter":"datum.p==7"}],"mark":{"type":"point","opacity":0},"encoding":{"x":{"field":"h","type":"quantitative","scale":{"domain":[0,24],"nice":false,"zero":false},"axis":null},"y":{"field":"v","type":"quantitative","scale":{"domain":[23.787,24.108],"range":[1058,917],"nice":false,"zero":false,"clamp":true},"axis":{"orient":"right","values":[23.79,23.8,23.81,23.82,23.83,23.84,23.85,23.86,23.87,23.88,23.89,23.9,23.91,23.92,23.93,23.94,23.95,23.96,23.97,23.98,23.99,24,24.01,24.02,24.03,24.04,24.05,24.06,24.07,24.08,24.09,24.1],"tickSize":-6,"labels":false,"title":null}}}},

 {"data":{"name":"lines"},"transform":[{"filter":"datum.p==8"}],"mark":{"type":"line","color":"#000","strokeWidth":1.2},"encoding":{"x":{"field":"h","type":"quantitative","scale":{"domain":[0,24],"nice":false,"zero":false},"axis":null},"y":{"field":"v","type":"quantitative","scale":{"domain":[73.53,74.765],"range":[1210,1070],"nice":false,"zero":false,"clamp":true},"axis":null},"detail":{"field":"s"}}},
 {"data":{"name":"lines"},"transform":[{"filter":"datum.p==8"}],"mark":{"type":"point","opacity":0},"encoding":{"x":{"field":"h","type":"quantitative","scale":{"domain":[0,24],"nice":false,"zero":false},"axis":{"orient":"bottom","offset":-306,"domain":true,"values":[0,1,2,3,4,5,6,7,8,9,10,11,12,13,14,15,16,17,18,19,20,21,22,23,24],"tickSize":-3,"labels":false,"title":null}},"y":{"field":"v","type":"quantitative","scale":{"domain":[73.53,74.765],"range":[1210,1070],"nice":false,"zero":false,"clamp":true},"axis":{"orient":"left","domain":true,"values":[73.6,73.8,74.0,74.2,74.4,74.6],"format":".1f","tickSize":-12,"labelPadding":16,"title":["spin","axis","Alpha","[deg]"],"titleX":-78.5,"titleY":1140,"titleAngle":270,"titleBaseline":"bottom","titleAlign":"center"}}}},
 {"data":{"name":"lines"},"transform":[{"filter":"datum.p==8"}],"mark":{"type":"point","opacity":0},"encoding":{"x":{"field":"h","type":"quantitative","scale":{"domain":[0,24],"nice":false,"zero":false},"axis":{"orient":"top","offset":-1070,"domain":true,"values":[0,1,2,3,4,5,6,7,8,9,10,11,12,13,14,15,16,17,18,19,20,21,22,23,24],"tickSize":-3,"labels":false,"title":null}},"y":{"field":"v","type":"quantitative","scale":{"domain":[73.53,74.765],"range":[1210,1070],"nice":false,"zero":false,"clamp":true},"axis":{"orient":"right","domain":true,"values":[73.6,73.8,74.0,74.2,74.4,74.6],"tickSize":-12,"labels":false,"title":"interpolated","titleAngle":0,"titleAlign":"left","titleBaseline":"middle","titleX":0,"titleY":1148,"titleFontSize":12.5}}}},
 {"data":{"name":"lines"},"transform":[{"filter":"datum.p==8"}],"mark":{"type":"point","opacity":0},"encoding":{"x":{"field":"h","type":"quantitative","scale":{"domain":[0,24],"nice":false,"zero":false},"axis":null},"y":{"field":"v","type":"quantitative","scale":{"domain":[73.53,74.765],"range":[1210,1070],"nice":false,"zero":false,"clamp":true},"axis":{"orient":"left","values":[73.56,73.6,73.64,73.68,73.72,73.76,73.8,73.84,73.88,73.92,73.96,74,74.04,74.08,74.12,74.16,74.2,74.24,74.28,74.32,74.36,74.4,74.44,74.48,74.52,74.56,74.6,74.64,74.68,74.72,74.76],"tickSize":-6,"labels":false,"title":null}}}},
 {"data":{"name":"lines"},"transform":[{"filter":"datum.p==8"}],"mark":{"type":"point","opacity":0},"encoding":{"x":{"field":"h","type":"quantitative","scale":{"domain":[0,24],"nice":false,"zero":false},"axis":null},"y":{"field":"v","type":"quantitative","scale":{"domain":[73.53,74.765],"range":[1210,1070],"nice":false,"zero":false,"clamp":true},"axis":{"orient":"right","values":[73.56,73.6,73.64,73.68,73.72,73.76,73.8,73.84,73.88,73.92,73.96,74,74.04,74.08,74.12,74.16,74.2,74.24,74.28,74.32,74.36,74.4,74.44,74.48,74.52,74.56,74.6,74.64,74.68,74.72,74.76],"tickSize":-6,"labels":false,"title":null}}}},

 {"data":{"name":"lines"},"transform":[{"filter":"datum.p==9"}],"mark":{"type":"line","color":"#000","strokeWidth":1.2},"encoding":{"x":{"field":"h","type":"quantitative","scale":{"domain":[0,24],"nice":false,"zero":false},"axis":null},"y":{"field":"v","type":"quantitative","scale":{"domain":[23.787,24.108],"range":[1363,1222],"nice":false,"zero":false,"clamp":true},"axis":null},"detail":{"field":"s"}}},
 {"data":{"name":"cols"},"transform":[{"filter":"datum.p==9"}],"mark":{"type":"rule","color":"#000","strokeDash":[1,2]},"encoding":{"x":{"field":"h","type":"quantitative","scale":{"domain":[0,24],"nice":false,"zero":false},"axis":null},"y":{"field":"v","type":"quantitative","scale":{"domain":[23.787,24.108],"range":[1363,1222],"nice":false,"zero":false,"clamp":true},"axis":null},"y2":{"field":"v2"}}},
 {"data":{"name":"lines"},"transform":[{"filter":"datum.p==9"}],"mark":{"type":"point","opacity":0},"encoding":{"x":{"field":"h","type":"quantitative","scale":{"domain":[0,24],"nice":false,"zero":false},"axis":{"orient":"bottom","offset":-153,"domain":true,"values":[0,1,2,3,4,5,6,7,8,9,10,11,12,13,14,15,16,17,18,19,20,21,22,23,24],"tickSize":-3,"labels":false,"title":null}},"y":{"field":"v","type":"quantitative","scale":{"domain":[23.787,24.108],"range":[1363,1222],"nice":false,"zero":false,"clamp":true},"axis":{"orient":"left","domain":true,"values":[23.8,23.85,23.9,23.95,24.0,24.05,24.1],"format":".2f","tickSize":-12,"labelPadding":16,"title":["spin","axis","Delta","[deg]"],"titleX":-88.5,"titleY":1292.5,"titleAngle":270,"titleBaseline":"bottom","titleAlign":"center"}}}},
 {"data":{"name":"lines"},"transform":[{"filter":"datum.p==9"}],"mark":{"type":"point","opacity":0},"encoding":{"x":{"field":"h","type":"quantitative","scale":{"domain":[0,24],"nice":false,"zero":false},"axis":{"orient":"top","offset":-1222,"domain":true,"values":[0,1,2,3,4,5,6,7,8,9,10,11,12,13,14,15,16,17,18,19,20,21,22,23,24],"tickSize":-3,"labels":false,"title":null}},"y":{"field":"v","type":"quantitative","scale":{"domain":[23.787,24.108],"range":[1363,1222],"nice":false,"zero":false,"clamp":true},"axis":{"orient":"right","domain":true,"values":[23.8,23.85,23.9,23.95,24.0,24.05,24.1],"tickSize":-12,"labels":false,"title":"interpolated","titleAngle":0,"titleAlign":"left","titleBaseline":"middle","titleX":0,"titleY":1301,"titleFontSize":12.5}}}},
 {"data":{"name":"lines"},"transform":[{"filter":"datum.p==9"}],"mark":{"type":"point","opacity":0},"encoding":{"x":{"field":"h","type":"quantitative","scale":{"domain":[0,24],"nice":false,"zero":false},"axis":null},"y":{"field":"v","type":"quantitative","scale":{"domain":[23.787,24.108],"range":[1363,1222],"nice":false,"zero":false,"clamp":true},"axis":{"orient":"left","values":[23.79,23.8,23.81,23.82,23.83,23.84,23.85,23.86,23.87,23.88,23.89,23.9,23.91,23.92,23.93,23.94,23.95,23.96,23.97,23.98,23.99,24,24.01,24.02,24.03,24.04,24.05,24.06,24.07,24.08,24.09,24.1],"tickSize":-6,"labels":false,"title":null}}}},
 {"data":{"name":"lines"},"transform":[{"filter":"datum.p==9"}],"mark":{"type":"point","opacity":0},"encoding":{"x":{"field":"h","type":"quantitative","scale":{"domain":[0,24],"nice":false,"zero":false},"axis":null},"y":{"field":"v","type":"quantitative","scale":{"domain":[23.787,24.108],"range":[1363,1222],"nice":false,"zero":false,"clamp":true},"axis":{"orient":"right","values":[23.79,23.8,23.81,23.82,23.83,23.84,23.85,23.86,23.87,23.88,23.89,23.9,23.91,23.92,23.93,23.94,23.95,23.96,23.97,23.98,23.99,24,24.01,24.02,24.03,24.04,24.05,24.06,24.07,24.08,24.09,24.1],"tickSize":-6,"labels":false,"title":null}}}},

 {"data":{"name":"lines"},"transform":[{"filter":"datum.p==10"}],"mark":{"type":"line","color":"#0000ff","strokeWidth":1.2},"encoding":{"x":{"field":"h","type":"quantitative","scale":{"domain":[0,24],"nice":false,"zero":false},"axis":null},"y":{"field":"v","type":"quantitative","scale":{"domain":[-16085,16385],"range":[1516,1375],"nice":false,"zero":false,"clamp":true},"axis":null},"detail":{"field":"s"}}},
 {"data":{"name":"lines"},"transform":[{"filter":"datum.p==10"}],"mark":{"type":"point","opacity":0},"encoding":{"x":{"field":"h","type":"quantitative","scale":{"domain":[0,24],"nice":false,"zero":false},"axis":{"orient":"bottom","offset":0,"domain":true,"values":[0,1,2,3,4,5,6,7,8,9,10,11,12,13,14,15,16,17,18,19,20,21,22,23,24],"tickSize":-3,"labelPadding":12,"labelExpr":"datum.value==0?['0000','Nov 26']:datum.value==8?'0800':datum.value==16?'1600':datum.value==24?['0000','Nov 27']:''","title":["hhmm","2018"],"titleX":-128,"titleY":10,"titleAngle":0,"titleAlign":"left","titleBaseline":"top"}},"y":{"field":"v","type":"quantitative","scale":{"domain":[-16085,16385],"range":[1516,1375],"nice":false,"zero":false,"clamp":true},"axis":{"orient":"left","domain":true,"values":[-15000,-10000,-5000,0,5000,10000,15000],"labelExpr":"datum.value==15000?'1.5×10⁴':datum.value==10000?'1.0×10⁴':datum.value==5000?'5.0×10³':datum.value==0?'0':datum.value==-5000?'−5.0×10³':datum.value==-10000?'−1.0×10⁴':'−1.5×10⁴'","tickSize":-12,"labelPadding":16,"title":["dt from","nearest","GAS val","[sec]"],"titleX":-111.5,"titleY":1445.5,"titleAngle":270,"titleBaseline":"bottom","titleAlign":"center"}}}},
 {"data":{"name":"lines"},"transform":[{"filter":"datum.p==10"}],"mark":{"type":"point","opacity":0},"encoding":{"x":{"field":"h","type":"quantitative","scale":{"domain":[0,24],"nice":false,"zero":false},"axis":{"orient":"top","offset":-1375,"domain":true,"values":[0,1,2,3,4,5,6,7,8,9,10,11,12,13,14,15,16,17,18,19,20,21,22,23,24],"tickSize":-3,"labels":false,"title":null}},"y":{"field":"v","type":"quantitative","scale":{"domain":[-16085,16385],"range":[1516,1375],"nice":false,"zero":false,"clamp":true},"axis":{"orient":"right","domain":true,"values":[-15000,-10000,-5000,0,5000,10000,15000],"tickSize":-12,"labels":false,"title":"Fri Dec 14 14:32:37 2018","titleAngle":270,"titleAlign":"left","titleBaseline":"middle","titleX":5,"titleY":1514,"titleFontSize":6}}}},
 {"data":{"name":"lines"},"transform":[{"filter":"datum.p==10"}],"mark":{"type":"point","opacity":0},"encoding":{"x":{"field":"h","type":"quantitative","scale":{"domain":[0,24],"nice":false,"zero":false},"axis":null},"y":{"field":"v","type":"quantitative","scale":{"domain":[-16085,16385],"range":[1516,1375],"nice":false,"zero":false,"clamp":true},"axis":{"orient":"left","values":[-16000,-15000,-14000,-13000,-12000,-11000,-10000,-9000,-8000,-7000,-6000,-5000,-4000,-3000,-2000,-1000,0,1000,2000,3000,4000,5000,6000,7000,8000,9000,10000,11000,12000,13000,14000,15000,16000],"tickSize":-6,"labels":false,"title":null}}}},
 {"data":{"name":"lines"},"transform":[{"filter":"datum.p==10"}],"mark":{"type":"point","opacity":0},"encoding":{"x":{"field":"h","type":"quantitative","scale":{"domain":[0,24],"nice":false,"zero":false},"axis":null},"y":{"field":"v","type":"quantitative","scale":{"domain":[-16085,16385],"range":[1516,1375],"nice":false,"zero":false,"clamp":true},"axis":{"orient":"right","values":[-16000,-15000,-14000,-13000,-12000,-11000,-10000,-9000,-8000,-7000,-6000,-5000,-4000,-3000,-2000,-1000,0,1000,2000,3000,4000,5000,6000,7000,8000,9000,10000,11000,12000,13000,14000,15000,16000],"tickSize":-6,"labels":false,"title":null}}}}
]
}
